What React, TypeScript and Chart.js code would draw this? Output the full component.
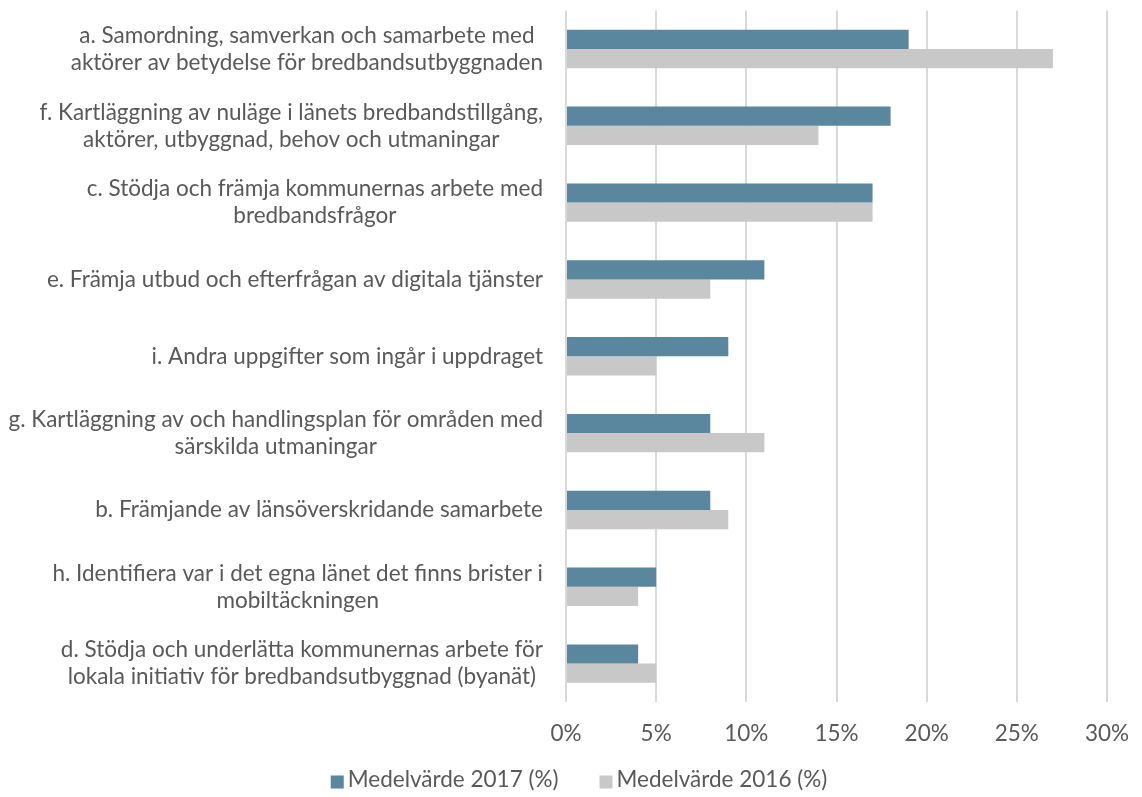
import React, { useEffect, useRef } from "react";
import { Chart, registerables } from "chart.js";

Chart.register(...registerables);

const categories: string[][] = [
  ["a. Samordning, samverkan och samarbete med", "aktörer av betydelse för bredbandsutbyggnaden"],
  ["f. Kartläggning av nuläge i länets bredbandstillgång,", "aktörer, utbyggnad, behov och utmaningar"],
  ["c. Stödja och främja kommunernas arbete med", "bredbandsfrågor"],
  ["e. Främja utbud och efterfrågan av digitala tjänster"],
  ["i. Andra uppgifter som ingår i uppdraget"],
  ["g. Kartläggning av och handlingsplan för områden med", "särskilda utmaningar"],
  ["b. Främjande av länsöverskridande samarbete"],
  ["h. Identifiera var i det egna länet det finns brister i", "mobiltäckningen"],
  ["d. Stödja och underlätta kommunernas arbete för", "lokala initiativ för bredbandsutbyggnad (byanät)"],
];

const values2017: number[] = [19, 18, 17, 11, 9, 8, 8, 5, 4];
const values2016: number[] = [27, 14, 17, 8, 5, 11, 9, 4, 5];

const seriesNames: string[] = ["Medelvärde 2017 (%)", "Medelvärde 2016 (%)"];
const seriesColors: string[] = ["#5B879E", "#C8C8C8"];
const xTickMax = 30;
const xTickStep = 5;

const FONT = "Lato, 'Open Sans', sans-serif";
const FSIZE = 22.5;
const TEXT = "#595959";

const labelPlugin = {
  id: "centeredLabels",
  afterDraw(chart: any) {
    const ctx = chart.ctx;
    const yScale = chart.scales.y;
    const rightEdge = chart.chartArea.left - 23;
    const lineH = 27;
    ctx.save();
    ctx.font = `${FSIZE}px ${FONT}`;
    ctx.fillStyle = TEXT;
    ctx.textAlign = "center";
    ctx.textBaseline = "middle";
    categories.forEach((lines, i) => {
      const py = yScale.getPixelForValue(i);
      const w = Math.max(...lines.map((l) => ctx.measureText(l).width));
      const cx = rightEdge - w / 2;
      lines.forEach((l, j) => {
        ctx.fillText(l, cx, py + (j - (lines.length - 1) / 2) * lineH);
      });
    });
    ctx.restore();
  },
};

const legendPlugin = {
  id: "customLegend",
  afterDraw(chart: any) {
    const ctx = chart.ctx;
    const box = 13;
    const gap = 4;
    const itemGap = 41;
    const centerX = 579;
    const midY = 780;
    ctx.save();
    ctx.font = `${FSIZE}px ${FONT}`;
    ctx.textBaseline = "middle";
    ctx.textAlign = "left";
    const widths = chart.data.datasets.map((d: any) => ctx.measureText(d.label).width);
    const total =
      widths.reduce((s: number, w: number) => s + box + gap + w, 0) + itemGap * (widths.length - 1);
    let x = centerX - total / 2;
    chart.data.datasets.forEach((d: any, i: number) => {
      ctx.fillStyle = d.backgroundColor;
      ctx.fillRect(x, midY - box / 2 + 2, box, box);
      x += box + gap;
      ctx.fillStyle = TEXT;
      ctx.fillText(d.label, x, midY);
      x += widths[i] + itemGap;
    });
    ctx.restore();
  },
};

export default function App() {
  const ref = useRef<HTMLCanvasElement | null>(null);
  useEffect(() => {
    document.body.style.margin = "0";
    if (!ref.current) return;
    const chart = new Chart(ref.current, {
      type: "bar",
      data: {
        labels: categories.map((c) => c.join(" ")),
        datasets: [
          {
            label: seriesNames[0],
            data: values2017,
            backgroundColor: seriesColors[0],
            borderWidth: 0,
            categoryPercentage: 0.5,
            barPercentage: 1.0,
          },
          {
            label: seriesNames[1],
            data: values2016,
            backgroundColor: seriesColors[1],
            borderWidth: 0,
            categoryPercentage: 0.5,
            barPercentage: 1.0,
          },
        ],
      },
      options: {
        indexAxis: "y",
        animation: false,
        responsive: false,
        maintainAspectRatio: false,
        layout: { padding: { top: 10.5, right: 35, bottom: 40, left: 0 } },
        scales: {
          x: {
            min: 0,
            max: xTickMax,
            ticks: {
              stepSize: xTickStep,
              padding: 18,
              color: TEXT,
              font: { family: FONT, size: FSIZE },
              callback: (v: any) => `${v}%`,
            },
            grid: { color: "#D9D9D9", lineWidth: 2, drawTicks: false },
            border: { display: false },
            afterFit: (scale: any) => {
              scale.height -= 8;
              scale.paddingRight = 0;
              scale.paddingLeft = 0;
            },
          },
          y: {
            ticks: { display: false },
            grid: { display: false },
            border: { display: false },
            afterFit: (scale: any) => {
              scale.width = 566;
            },
          },
        },
        plugins: {
          legend: { display: false },
          tooltip: { enabled: false },
        },
      },
      plugins: [labelPlugin, legendPlugin],
    });
    return () => chart.destroy();
  }, []);
  return (
    <div style={{ width: 1142, height: 797 }}>
      <canvas ref={ref} width={1142} height={797} style={{ display: "block" }} />
    </div>
  );
}
